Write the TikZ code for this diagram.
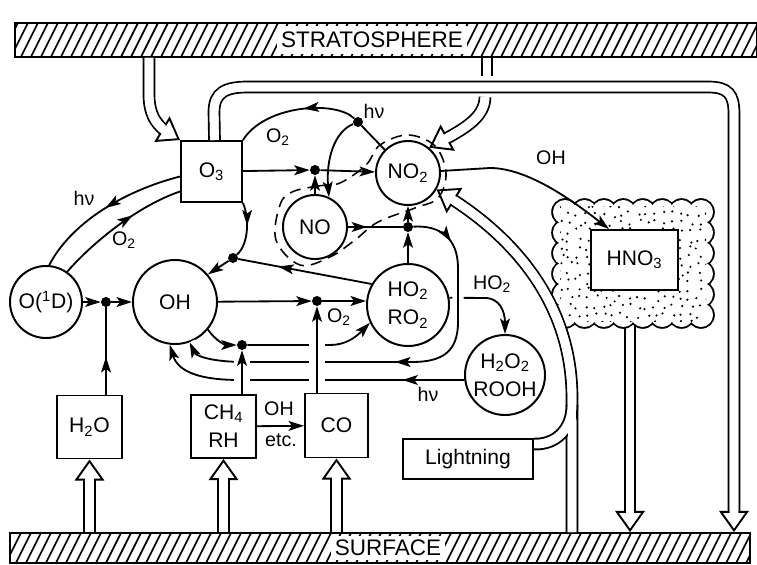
\documentclass[tikz,border=0pt]{standalone}
\usepackage{fontspec}
\setmainfont{Liberation Sans}
\usetikzlibrary{arrows.meta, calc, decorations.markings}

\tikzset{
  >={Stealth[length=11pt, width=7pt, inset=2.5pt]},
  every node/.style={font=\fontsize{15}{20}\selectfont},
  box/.style={draw, line width=1.4pt, fill=white, inner sep=2pt, align=center},
  spc/.style={draw, circle, line width=1.4pt, fill=white, inner sep=0pt, align=center},
  dot/.style={circle, fill, inner sep=0pt, minimum size=0.25cm},
  lbl/.style={font=\fontsize{14}{16}\selectfont, inner sep=1pt},
  rxn/.style={line width=1.3pt},
  headat/.style={postaction={decorate, decoration={markings, mark=at position #1 with {\arrow{>}}}}},
  gap/.style={preaction={draw=white, line width=#1, -}},
  gap/.default=12pt,
  pipe/.style={line width=9pt, postaction={draw=white, line width=6.3pt}},
  pipehead/.style={shorten >=9pt,
    postaction={decorate, decoration={markings, mark=at position 1 with
      {\arrow[line width=1.35pt]{Triangle[length=15pt, width=21pt, fill=white]}}}},
    postaction={draw=white, line width=6.3pt}},
  bar/.style={draw, line width=1.4pt, inner sep=0pt,
    path picture={
      \foreach \i in {0,...,80}
        \draw[line width=1.2pt] ([xshift=\i*0.25cm-0.6cm]path picture bounding box.south west) -- ++(0.45cm,0.9cm);
    }},
  barlabel/.style={fill=white, inner xsep=3pt, inner ysep=0pt, font=\fontsize{16}{18}\selectfont}
}

\begin{document}
\begin{tikzpicture}[x=0.025cm, y=-0.025cm]
    \useasboundingbox (0,0) rectangle (757,565);

    % Stratosphere and surface
    \node[bar, minimum width=18.55cm, minimum height=0.85cm] (strat) at (386,40) {};
    \node[barlabel, minimum height=0.7cm] (stratlbl) at (372,40) {STRATOSPHERE};
    \node[bar, minimum width=18.5cm, minimum height=0.75cm] (surf) at (380,548) {};
    \node[barlabel, minimum height=0.6cm] (surflbl) at (388,548) {SURFACE};

    % HNO3 washout, under the cloud
    \coordinate (cHNO3) at (630,305);
    \draw[pipe, pipehead] (cHNO3) -- (cHNO3 |- surf.north);

    % Cloud
    \foreach \rad/\col in {0.345cm/black, 0.30cm/white} {
      \foreach \i in {0,...,7}
        \fill[\col] (565+19.43*\i,212) circle (\rad) (565+19.43*\i,315) circle (\rad);
      \foreach \i in {1,...,4}
        \fill[\col] (565,212+20.6*\i) circle (\rad) (701,212+20.6*\i) circle (\rad);
    }
    \fill[white] (565,212) rectangle (701,315);
    \pgfmathsetseed{11}
    \begin{scope}
      \clip (560,206) rectangle (706,321);
      \foreach \x in {0,...,17}
        \foreach \y in {0,...,14}
          \fill (558+8.6*\x+6*rnd, 203+8.4*\y+6*rnd) circle (0.03cm);
    \end{scope}

    % Species
    \node[box, minimum size=1.525cm] (O3) at (211.5,171.5) {O\textsubscript{3}};
    \node[spc, minimum size=1.8cm] (O1D) at (46,302) {O(\textsuperscript{1}D)};
    \node[spc, minimum size=2.1cm] (OH) at (175,302) {OH};
    \node[spc, minimum size=1.6cm] (NO) at (315,227) {NO};
    \node[spc, minimum size=1.6cm] (NO2) at (408,173) {NO\textsubscript{2}};
    \node[spc, minimum size=2.05cm] (HO2) at (408,305) {HO\textsubscript{2}\\RO\textsubscript{2}};
    \node[spc, minimum size=2.0cm] (H2O2) at (505,375) {H\textsubscript{2}O\textsubscript{2}\\ROOH};
    \node[box, minimum width=2.175cm, minimum height=1.5cm] (HNO3) at (634.5,260) {HNO\textsubscript{3}};
    \node[box, minimum width=1.625cm, minimum height=1.575cm] (H2O) at (89.5,427) {H\textsubscript{2}O};
    \node[box, minimum width=1.625cm, minimum height=1.575cm] (CH4) at (223.5,426.5) {CH\textsubscript{4}\\RH};
    \node[box, minimum width=1.575cm, minimum height=1.6cm] (CO) at (336.5,425.5) {CO};
    \node[box, minimum width=3.25cm, minimum height=1.0cm] (Lightning) at (468,459) {Lightning};

    % Junctions
    \node[dot] (dH2O) at (106,302) {};
    \node[dot] (dNO) at (315,170) {};
    \node[dot] (dhv) at (358,122) {};
    \node[dot] (dHO2) at (408,227) {};
    \node[dot] (dO3) at (233,258) {};
    \node[dot] (dCO) at (317,301) {};
    \node[dot] (dCH4) at (242,345) {};

    % Transport
    \coordinate (sO3) at (149,95);
    \draw[pipe, pipehead] (strat.south -| sO3) -- (sO3) .. controls (149,118) and (160,128) .. (O3.north west);
    \coordinate (sNOx) at (487,76);
    \draw[pipe] (strat.south -| sNOx) -- (sNOx);
    \coordinate (bNO2) at (485,97);
    \draw[pipe, pipehead] (bNO2) .. controls (485,118) and (462,130) .. (NO2.50);
    \coordinate (bandR) at (734,114);
    \draw[pipe, pipehead] ($(O3.north)+(3,0)$) -- (214,112) .. controls (214,92) and (226,87) .. (248,87) -- (708,87) .. controls (728,87) and (734,94) .. (bandR) -- (bandR |- surf.north);
    \coordinate (jL) at (572,405);
    \draw[pipe, pipehead] (jL |- surf.north) -- (jL) -- (572,398) .. controls (572,300) and (510,235) .. (NO2.-30);
    \draw[pipe] ($(Lightning.north east)+(0,6)$) .. controls (555,445) and (572,430) .. (jL);
    \draw[white, line width=6.3pt] (jL |- surf.north) -- (572,390);
    \draw[pipe, pipehead] (H2O.south |- surf.north) -- (H2O.south);
    \draw[pipe, pipehead] (CH4.south |- surf.north) -- (CH4.south);
    \draw[pipe, pipehead] (CO.south |- surf.north) -- (CO.south);

    % NOx family
    \draw[line width=1.1pt, dash pattern=on 8pt off 5pt] plot[smooth cycle, tension=0.6] coordinates
      {(292,192) (318,186) (340,183) (366,165) (380,145) (408,135) (435,146) (446,173) (438,198) (415,208) (378,222) (355,240) (330,257) (300,265) (276,240) (280,205)};

    % O3 <-> O(1D)
    \draw[rxn, headat=.5] ($(O3.west)+(0,5)$) .. controls (120,192) and (70,225) .. (O1D.85);
    \draw[rxn, headat=.62] (O1D.55) .. controls (95,240) and (140,205) .. ($(O3.west)+(0,20)$);
    \draw[rxn, ->] (O1D) -- (dH2O);
    \draw[rxn, ->] (dH2O) -- (OH);
    \draw[rxn, headat=.43] (dH2O |- H2O.north) -- (dH2O);

    % NO - NO2 cycling
    \draw[rxn, ->] (O3) -- (dNO);
    \draw[rxn, ->] (dNO) -- (NO2);
    \draw[rxn, ->] (NO) -- (dNO);
    \draw[rxn] (NO2.135) -- (dhv);
    \draw[rxn, headat=.43] (dhv) .. controls (335,100) and (265,105) .. (O3.north east);
    \draw[rxn, ->] (dhv) .. controls (334,132) and (326,160) .. (NO.65);
    \draw[rxn, headat=.35] (NO) -- (dHO2);
    \draw[rxn, ->] (dHO2) -- (NO2);
    \draw[rxn, ->] (HO2) -- (dHO2);

    % HOx
    \draw[rxn, ->] (HO2.10) -- (485,298) .. controls (500,298) and (505,312) .. (H2O2);
    \draw[rxn, gap=8pt, headat=.1, headat=.5, ->] (dHO2) .. controls (440,225) and (458,238) .. (458,268) -- (458,322) .. controls (458,352) and (442,362) .. (412,362) -- (245,362) .. controls (212,362) and (196,356) .. (OH.-70);
    \draw[rxn, headat=.2, ->] (H2O2.187) -- (240,380) .. controls (200,380) and (178,372) .. (OH.-97);
    \draw[rxn, ->] (OH.-40) .. controls (215,340) and (225,345) .. (dCH4);
    \draw[rxn, ->] (dCH4) -- (330,345) .. controls (345,345) and (355,338) .. (HO2.205);
    \draw[rxn, ->] (OH) -- (dCO);
    \draw[rxn, ->] (dCO) -- (dCO -| HO2.west);
    \draw[rxn, gap, ->] (dCH4 |- CH4.north) -- (dCH4);
    \draw[rxn, gap, ->] (dCO |- CO.north) -- (dCO);
    \draw[rxn, headat=.42] (O3.south east) .. controls (250,220) and (248,245) .. (dO3);
    \draw[rxn, headat=.7] (HO2.150) -- (dO3);
    \draw[rxn, ->] (dO3) -- (OH.40);
    \draw[rxn, ->] (CH4) -- (CO);
    \draw[rxn, ->] (NO2) -- (490,168) .. controls (530,168) and (578,205) .. ($(HNO3.north west)+(19,0)$);

    % Labels
    \node[lbl] (lhv1) at (84,198) {hν};
    \node[lbl] (lo21) at (124,240) {O\textsubscript{2}};
    \node[lbl] (lhv2) at (374,111) {hν};
    \node[lbl] (lo22) at (278,137) {O\textsubscript{2}};
    \node[lbl] (lo23) at (339,317) {O\textsubscript{2}};
    \node[lbl] (loh1) at (551,158) {OH};
    \node[lbl] (lho2) at (492,284) {HO\textsubscript{2}};
    \node[lbl] (lhv3) at (428,394) {hν};
    \node[lbl] (loh2) at (279,409) {OH};
    \node[lbl] (letc) at (281,440) {etc.};
\end{tikzpicture}
\end{document}
